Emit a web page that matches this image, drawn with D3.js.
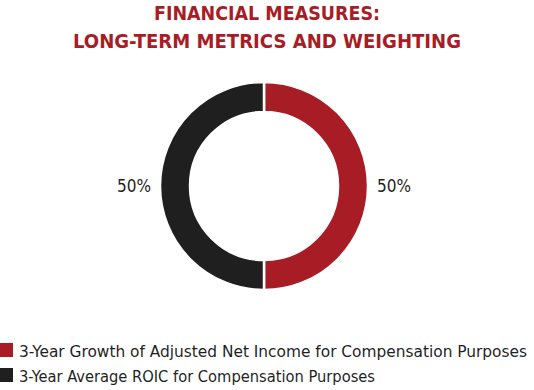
<!DOCTYPE html>
<html>
<head>
<meta charset="utf-8">
<script src="https://cdn.jsdelivr.net/npm/d3@7"></script>
<style>
  body { margin: 0; background: #fff; }
  svg { display: block; }
</style>
</head>
<body>
<svg id="chart" width="534" height="390"></svg>
<script>
// data
var titleLines = ["FINANCIAL MEASURES:", "LONG-TERM METRICS AND WEIGHTING"];
var categories = [
  "3-Year Growth of Adjusted Net Income for Compensation Purposes",
  "3-Year Average ROIC for Compensation Purposes"
];
var weights = [50, 50];
var colors = ["#a81c26", "#1f1f1f"];

var svg = d3.select("#chart");
var cx = 264, cy = 186;

// title
var titleWidths = [226, 388];
svg.selectAll("text.title")
  .data(titleLines)
  .enter().append("text")
  .attr("class", "title")
  .attr("x", 267)
  .attr("y", function(d, i){ return 20 + i * 28; })
  .attr("text-anchor", "middle")
  .attr("textLength", function(d, i){ return titleWidths[i]; })
  .attr("lengthAdjust", "spacingAndGlyphs")
  .style("font-family", "'DejaVu Sans Condensed', 'Liberation Sans Narrow', sans-serif")
  .style("font-weight", "bold")
  .style("font-size", "20px")
  .style("fill", "#a81c26")
  .text(function(d){ return d; });

// donut
var pie = d3.pie().sort(null).value(function(d){ return d; });
var arc = d3.arc().innerRadius(74).outerRadius(104);
var labelArc = d3.arc().innerRadius(130).outerRadius(130);

var g = svg.append("g").attr("transform", "translate(" + cx + "," + cy + ")");
var arcs = pie(weights);

g.selectAll("path")
  .data(arcs)
  .enter().append("path")
  .attr("d", arc)
  .style("fill", function(d, i){ return colors[i]; })
  .style("stroke", "#fff")
  .style("stroke-width", 2.5);

g.selectAll("text")
  .data(arcs)
  .enter().append("text")
  .attr("transform", function(d){ return "translate(" + labelArc.centroid(d) + ")"; })
  .attr("dy", "0.35em")
  .attr("text-anchor", "middle")
  .style("font-family", "'DejaVu Sans Condensed', sans-serif")
  .style("font-size", "17px")
  .style("fill", "#1f1f1f")
  .text(function(d){ return d.data + "%"; });

// legend
var legendWidths = [508, 356];
var legend = svg.selectAll("g.legend")
  .data(categories)
  .enter().append("g")
  .attr("class", "legend")
  .attr("transform", function(d, i){ return "translate(0," + (343 + i * 25) + ")"; });

legend.append("rect")
  .attr("x", 0).attr("y", 0)
  .attr("width", 13).attr("height", 14)
  .style("fill", function(d, i){ return colors[i]; });

legend.append("text")
  .attr("x", 19)
  .attr("y", 14)
  .attr("textLength", function(d, i){ return legendWidths[i]; })
  .attr("lengthAdjust", "spacingAndGlyphs")
  .style("font-family", "'DejaVu Sans Condensed', sans-serif")
  .style("font-size", "16px")
  .style("fill", "#1f1f1f")
  .text(function(d){ return d; });
</script>
</body>
</html>
